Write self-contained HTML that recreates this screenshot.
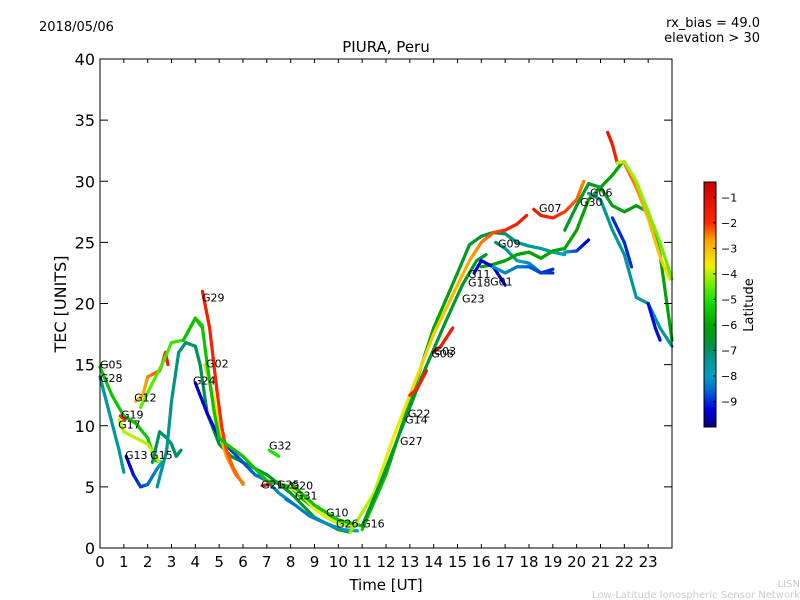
<!DOCTYPE html>
<html><head><meta charset="utf-8"><style>
body{margin:0;background:#fff}
svg{display:block;font-family:"DejaVu Sans","Liberation Sans",sans-serif}
</style></head><body>
<svg id="chart" width="800" height="600" viewBox="0 0 800 600">
<rect width="800" height="600" fill="#fff"/>
<text x="39" y="31" font-size="13">2018/05/06</text>
<text x="760" y="27" font-size="13" text-anchor="end">rx_bias = 49.0</text>
<text x="760" y="42" font-size="13" text-anchor="end">elevation &gt; 30</text>
<text x="386" y="52" font-size="15" text-anchor="middle">PIURA, Peru</text>
<text x="386" y="590" font-size="15" text-anchor="middle">Time [UT]</text>
<text transform="translate(66,304) rotate(-90)" font-size="16" text-anchor="middle">TEC [UNITS]</text>
<text x="800" y="587" font-size="10" fill="#ccc" text-anchor="end">LISN</text>
<text x="800" y="598" font-size="10" fill="#ccc" text-anchor="end">Low-Latitude Ionospheric Sensor Network</text>
<g id="tracks"></g>
<g id="labels"></g>
<rect x="100" y="59" width="572" height="489" fill="none" stroke="#000" stroke-width="1"/>
<g id="axes"></g>
<defs><linearGradient id="cmap" x1="0" y1="1" x2="0" y2="0"></linearGradient></defs>
<g id="colorbar"></g>
<text transform="translate(753,305) rotate(-90)" font-size="13" text-anchor="middle">Latitude</text>
</svg>
<script>
const xTicks=[0,1,2,3,4,5,6,7,8,9,10,11,12,13,14,15,16,17,18,19,20,21,22,23];
const yTicks=[0,5,10,15,20,25,30,35,40];
const cbTicks=[-1,-2,-3,-4,-5,-6,-7,-8,-9];
const latMin=-10, latMax=-0.4;
// tracks: times (UT hours), tec values, latitude
const trackTimes=[
[0,0.5,1,1.5,2,2.3,2.6],
[0,0.4,0.8,1.0],
[0.8,1.0,1.5,2.0,2.5],
[0.85,1.05],
[1.5,1.8,2.0,2.3,2.5,2.6,2.75,2.85],
[1.7,2.2,2.6,3,3.5,4,4.3],
[1.1,1.4,1.7,2.0,2.4,2.6],
[2.2,2.5,2.8,3.0,3.2,3.4],
[2.4,2.8,3.0,3.3,3.6,4,4.2,4.5,5,5.5,6,7,8,9,10,10.5],
[4,4.5,5,5.5,6,6.5,7,7.5,8],
[4.4,4.8,5,5.3,5.7,6],
[4.3,4.6,4.9,5.1,5.3,5.6,6],
[3.5,4,4.3,4.5,4.8,5,5.3,6,6.5,7,8,8.5,9.5,10.5],
[7.1,7.5],
[6.8,7.1],
[8,8.5,9,9.5,10,10.5],
[7.8,8.2,8.8,9.5,10.2,10.8],
[8,9,10,11],
[11,12,13,14,15,15.5,16,16.5,17,17.5,18,18.5,19,19.5],
[10.5,11.5,12.3,13,14,15,15.5,16,16.5,17,17.5,17.9],
[11,11.8,12.6,13.5,14.5,15.2,15.8,16.2],
[16.6,17,17.5,18,18.5,19],
[18.2,18.5,19,19.5,20,20.3],
[16,16.5,17,17.5,18,18.5,19,19.5,20,20.5,21,21.5,21.9],
[19.5,20,20.5,21,21.5,22,22.5,23,23.5,24],
[21.3,21.5,21.7,22,22.5,23,23.5,23.9],
[21.7,22,22.5,23,23.5,24],
[20.5,21,21.5,22,22.5,23,23.5,24],
[21.5,22,22.3],
[23,23.3,23.5],
[15.7,16,16.5,17],
[16.5,17,17.5,18,18.5,19],
[19.5,20,20.5],
[14,14.3,14.8],
[13,13.3,13.7]
];
const trackTec=[
[14.8,12.5,10.8,10.2,9,7.2,7],
[14,11,8,6.2],
[10.5,9.5,9,8.5,7],
[10.8,10.5],
[12,12.5,14,14.3,14.5,15,16,15],
[11.5,13.5,15,16.8,17,18.8,18.2],
[7.5,6,5,5.2,6.5,7],
[7,9.5,9,8.5,7.5,8],
[5,8,12,16,16.8,16.5,15,11,8.5,7.5,7,6,4.5,2.5,1.5,1.3],
[13.5,11,9,8,7,6,5.5,4.5,3.8],
[15,12,9.5,7.5,6,5.3],
[21,18,13,10,8,6.5,5.2],
[17,18.8,18,15,11,9,8.5,7.5,6.5,5.5,5,4,2.5,1.8],
[8,7.5],
[5.1,5.2],
[5,4.3,3.2,2.5,2,1.8],
[4,3.5,2.6,2,1.5,1.4],
[5.3,3.5,2.3,1.8],
[1.5,6,12,18,22.5,24.8,25.5,25.8,25.7,25,24.7,24.5,24.2,24],
[1.3,4.5,9,12.5,17.5,21.5,23.5,25,25.8,26,26.5,27.2],
[1.8,5.5,9.5,14,18.5,21.5,23.5,24],
[25,24.5,23.5,23.3,22.5,22.5],
[27.7,27.2,27,27.5,28.5,30],
[23,23.2,23.5,24,24.2,23.7,24.3,24.5,26,28.5,29.5,30.5,31.5],
[26,28,29.8,29.5,28,27.5,28,27.5,24,17],
[34,33,31.5,31.5,29.5,27,23.8,22],
[31.5,31.6,30,27.5,25,22],
[29,28.5,26,24,20.5,20,18,16.5],
[27,25,23],
[20,18,17],
[22.5,23.5,23,21.5],
[23,22.5,23,23,22.5,22.8],
[24.2,24.3,25.2],
[16,16.5,18],
[12.5,13,14.5]
];
const trackLatStart=[-5.5,-7.5,-4,-2,-3,-4.5,-9.5,-7,-7.5,-9.5,-4,-1.5,-5.5,-5,-1.5,-3.5,-8.5,-5.5,-5.5,-4.2,-6.5,-7,-1.5,-6,-6.5,-1.2,-4,-7.5,-9,-9.2,-9.3,-8,-8,-1.5,-2];
const trackLatEnd=[-5.5,-7.5,-4,-2,-1.5,-5,-8,-7,-6,-8,-2,-2.5,-5.5,-5,-1.5,-4,-8,-5.5,-8,-1.5,-6.5,-9,-2.5,-6,-6,-3.5,-4.5,-7.5,-9,-9.2,-9.5,-9,-9.5,-1.5,-1.5];
const labelNames=["G05","G28","G12","G19","G17","G13","G15","G29","G02","G24","G32","G21","G25","G20","G31","G10","G26","G16","G27","G14","G22","G08","G03","G23","G18","G11","G01","G09","G07","G30","G06"];
const labelTimes=[0,0,1.43,0.88,0.76,1.05,2.1,4.28,4.45,3.9,7.09,6.76,7.43,8.0,8.18,9.48,9.9,11.0,12.59,12.8,12.92,13.9,14.0,15.19,15.44,15.44,16.37,16.7,18.42,20.14,20.56];
const labelTec=[15,13.9,12.3,10.9,10.1,7.6,7.6,20.5,15.1,13.7,8.4,5.2,5.2,5.1,4.3,2.9,2.0,2.0,8.75,10.5,11.0,15.9,16.1,20.4,21.7,22.4,21.8,24.9,27.8,28.3,29.1];

const X0=100,X1=672,Y0=548,Y1=59;
const xs=t=>X0+(t/24)*(X1-X0);
const ys=v=>Y0-(v/40)*(Y0-Y1);
const NS="http://www.w3.org/2000/svg";
// colormap stops (latitude -> rgb), styling only
const cmStops=[[-10,[0,0,128]],[-9.3,[0,0,224]],[-8.5,[0,112,208]],[-8,[0,160,192]],[-7.3,[0,150,140]],[-6.8,[0,145,70]],[-6,[0,165,0]],[-5,[30,225,0]],[-4.3,[130,240,0]],[-3.7,[240,240,0]],[-2.7,[255,165,0]],[-2,[255,40,0]],[-0.4,[200,0,0]]];
function cmap(l){
 if(l<=cmStops[0][0])return `rgb(${cmStops[0][1]})`;
 for(let i=0;i<cmStops.length-1;i++){const a=cmStops[i],b=cmStops[i+1];
  if(l<=b[0]){const f=(l-a[0])/(b[0]-a[0]);const c=a[1].map((v,k)=>Math.round(v+(b[1][k]-v)*f));return `rgb(${c})`;}}
 return `rgb(${cmStops[cmStops.length-1][1]})`;}
const grad=document.getElementById('cmap');
cmStops.forEach(s=>{const st=document.createElementNS(NS,'stop');
 st.setAttribute('offset',(s[0]-latMin)/(latMax-latMin));st.setAttribute('stop-color',`rgb(${s[1]})`);grad.appendChild(st);});
const gT=document.getElementById('tracks');
trackTimes.forEach((ts,i)=>{
 const g=document.createElementNS(NS,'g');
 
 
 const n=ts.length;
 for(let k=0;k<n-1;k++){
  const steps=6;
  for(let s=0;s<steps;s++){
   const f0=s/steps,f1=(s+1)/steps;
   const t0=ts[k]+(ts[k+1]-ts[k])*f0,t1=ts[k]+(ts[k+1]-ts[k])*f1;
   const v0=trackTec[i][k]+(trackTec[i][k+1]-trackTec[i][k])*f0,v1=trackTec[i][k]+(trackTec[i][k+1]-trackTec[i][k])*f1;
   const fr=(k+(f0+f1)/2)/(n-1);
   const lat=trackLatStart[i]+(trackLatEnd[i]-trackLatStart[i])*fr;
   const ln=document.createElementNS(NS,'line');
   ln.setAttribute('x1',xs(t0));ln.setAttribute('y1',ys(v0));
   ln.setAttribute('x2',xs(t1));ln.setAttribute('y2',ys(v1));
   ln.setAttribute('stroke',cmap(lat));ln.setAttribute('stroke-width','3.2');ln.setAttribute('stroke-linecap','round');
   g.appendChild(ln);
  }
 }
 gT.appendChild(g);
});
const gL=document.getElementById('labels');
labelNames.forEach((nm,i)=>{
 const t=document.createElementNS(NS,'text');
 
 
 t.setAttribute('x',xs(labelTimes[i]));t.setAttribute('y',ys(labelTec[i])+4);
 t.setAttribute('font-size','11');t.textContent=nm;gL.appendChild(t);
});
const gA=document.getElementById('axes');
function mk(tag,attrs,name){const e=document.createElementNS(NS,tag);for(const k in attrs)e.setAttribute(k,attrs[k]);
 
 
 gA.appendChild(e);return e;}
xTicks.forEach(t=>{const x=xs(t);
 mk('line',{x1:x,y1:Y0,x2:x,y2:Y0-4,stroke:'#000'},'x-tick');
 mk('line',{x1:x,y1:Y1,x2:x,y2:Y1+4,stroke:'#000'},'x-tick-top');
 const tx=mk('text',{x:x,y:567,'font-size':'15','text-anchor':'middle'},'x-tick-label');tx.textContent=t;});
yTicks.forEach(v=>{const y=ys(v);
 mk('line',{x1:X0,y1:y,x2:X0+8,y2:y,stroke:'#000'},'y-tick');
 mk('line',{x1:X1,y1:y,x2:X1-8,y2:y,stroke:'#000'},'y-tick-right');
 const tx=mk('text',{x:95,y:y+6,'font-size':'16','text-anchor':'end'},'y-tick-label');tx.textContent=v;});
const gC=document.getElementById('colorbar');
const cbTop=182,cbBot=427,cbX=704,cbW=12;
const cy=l=>cbBot-(l-latMin)/(latMax-latMin)*(cbBot-cbTop);
const r=document.createElementNS(NS,'rect');


r.setAttribute('x',cbX);r.setAttribute('y',cbTop);r.setAttribute('width',cbW);r.setAttribute('height',cbBot-cbTop);
r.setAttribute('fill','url(#cmap)');r.setAttribute('stroke','#000');gC.appendChild(r);
cbTicks.forEach(l=>{const y=cy(l);
 const ln=document.createElementNS(NS,'line');
 
 
 ln.setAttribute('x1',cbX+cbW-3);ln.setAttribute('x2',cbX+cbW);ln.setAttribute('y1',y);ln.setAttribute('y2',y);ln.setAttribute('stroke','#000');gC.appendChild(ln);
 const tx=document.createElementNS(NS,'text');
 
 
 tx.setAttribute('x',cbX+cbW+5);tx.setAttribute('y',y+4);tx.setAttribute('font-size','11');
 tx.textContent='\u2212'+Math.abs(l);gC.appendChild(tx);});
</script>
</body></html>
